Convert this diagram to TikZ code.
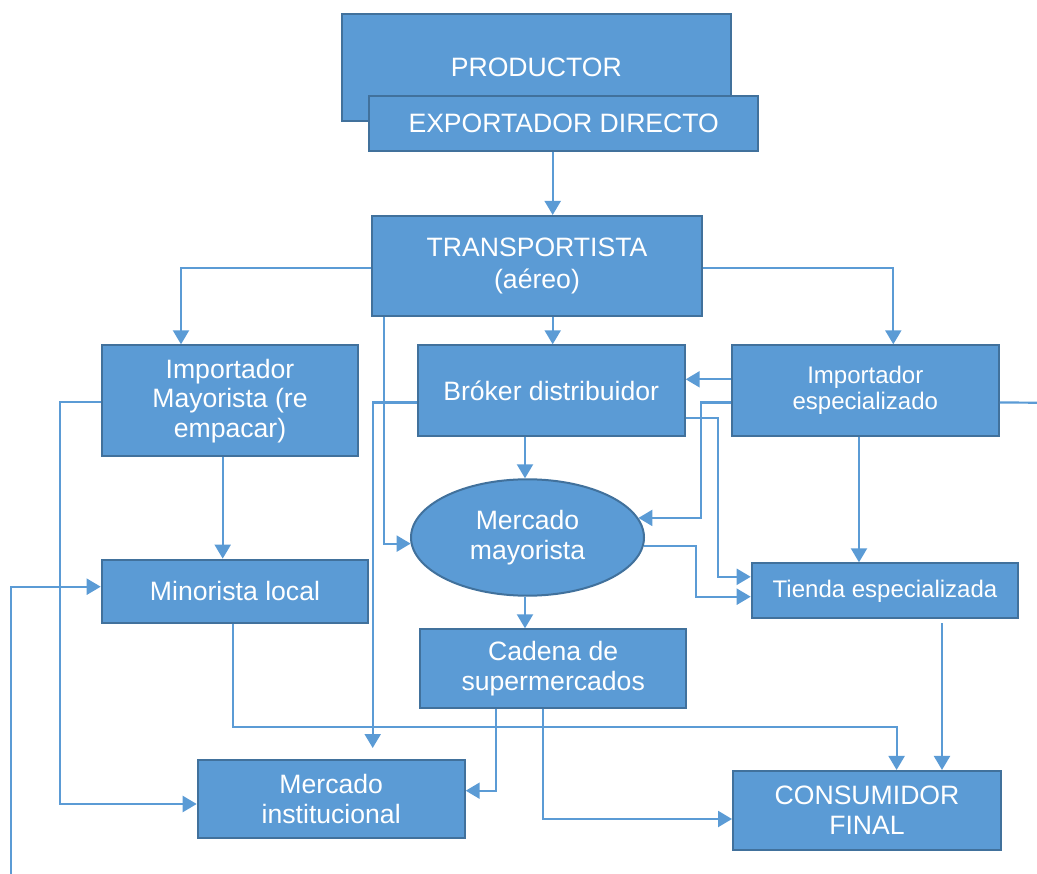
\documentclass[tikz,border=0pt]{standalone}
\usepackage{fontspec}
\setmainfont{Liberation Sans}
\usepackage{xcolor}
\usepackage{tikz}
\usetikzlibrary{arrows.meta,positioning,shapes.geometric,calc}
\definecolor{boxblue}{HTML}{5B9BD5}
\definecolor{boxedge}{HTML}{41719C}

\begin{document}
\begin{tikzpicture}[
    x=1pt, y=-1pt,
    box/.style={rectangle, draw=boxedge, fill=boxblue, line width=2pt, inner sep=0pt,
                align=center, text=white, font=\fontsize{26.6}{29.5}\selectfont},
    smallbox/.style={box, font=\fontsize{24}{26}\selectfont},
    oval/.style={box, ellipse},
    arrow/.style={-{Triangle[length=14pt,width=16pt]}, draw=boxblue, line width=2.2pt},
    link/.style={draw=boxblue, line width=2.2pt}
]
\useasboundingbox (0,0) rectangle (1037,874);

% top of the chain
\node[box, minimum width=388.7pt, minimum height=107pt]  (prod)   at (536.3,67.2)  {PRODUCTOR};
\node[box, minimum width=388.7pt, minimum height=54.7pt] (expo)   at (563.7,123.3) {EXPORTADOR DIRECTO};
\node[box, minimum width=330.6pt, minimum height=99.7pt,
      font=\fontsize{26.6}{31.5}\selectfont]             (transp) at (537,265.8)   {TRANSPORTISTA\\(aéreo)};

% importers and broker
\node[box, minimum width=256.6pt, minimum height=111pt]   (impmay) at (230,400.8)   {Importador\\Mayorista (re\\empacar)};
\node[box, minimum width=267pt, minimum height=90.4pt]    (broker) at (551.2,390.5) {Bróker distribuidor};
\node[smallbox, minimum width=267.3pt, minimum height=90.4pt] (impesp) at (865.3,390.5) {Importador\\especializado};

% markets and shops
\node[oval, minimum width=233pt, minimum height=116.4pt]  (mayor)  at (527.5,537.5) {Mercado\\mayorista};
\node[box, minimum width=266.6pt, minimum height=63.3pt]  (minor)  at (235,591.3)   {Minorista local};
\node[smallbox, minimum width=266.6pt, minimum height=55pt] (tienda) at (885,590.8) {Tienda especializada};
\node[box, minimum width=266.3pt, minimum height=78.2pt]  (cadena) at (553.2,668.4) {Cadena de\\supermercados};
\node[box, minimum width=267pt, minimum height=78pt]      (instit) at (331.2,799)   {Mercado\\institucional};
\node[box, minimum width=268pt, minimum height=78.7pt]    (consum) at (867,810.3)   {CONSUMIDOR\\FINAL};

% loose ends
\coordinate (minorin) at (10.7,874);
\coordinate (espout)  at (1037,402.7);

% connectors
\draw[arrow] ([xshift=-11pt]expo.south) -- ([xshift=15.7pt]transp.north);
\draw[arrow] ([yshift=-2pt]transp.west) -| ([xshift=-49pt]impmay.north);
\draw[arrow] ([xshift=15.7pt]transp.south) -- ([xshift=1.5pt]broker.north);
\draw[arrow] ([yshift=-2pt]transp.east) -| ([xshift=28pt]impesp.north);
\draw[arrow] ([xshift=-153pt]transp.south) |- (mayor.183);

\draw[arrow] ([yshift=-1.5pt]impmay.west) -- ++(-41pt,0pt) |- ([yshift=-5pt]instit.west);
\draw[arrow] ([xshift=-7.3pt]impmay.south) -- ([xshift=-12.3pt]minor.north);
\draw[arrow] (minorin) |- ([yshift=4.6pt]minor.west);

\draw[arrow] ([yshift=-12pt]broker.west) -| ([xshift=41.5pt,yshift=11pt]instit.north);
\draw[arrow] ([xshift=-26.2pt]broker.south) -- ([xshift=-2.5pt]mayor.north);
\draw[arrow] ([yshift=-27.8pt]broker.east) -- ++(32.6pt,0pt) |- ([yshift=14pt]tienda.west);

\draw[arrow] ([yshift=11.2pt]impesp.west) -- ([yshift=11.2pt]broker.east);
\draw[arrow] ([yshift=-12pt]impesp.west) -- ++(-30pt,0pt) |- (mayor.10);
\draw[arrow] ([xshift=-6.3pt]impesp.south) -- ([xshift=-26pt]tienda.north);
\draw[link]  ([yshift=-12pt]impesp.east) -- (espout);

\draw[arrow] (mayor.356) -- ++(52pt,0pt) |- ([yshift=-5.9pt]tienda.west);
\draw[arrow] ([xshift=-2.5pt]mayor.south) -- ([xshift=-28.2pt]cadena.north);

\draw[arrow] ([xshift=-2.3pt]minor.south) -- ++(0pt,-102.7pt) -| ([xshift=29.6pt]consum.north);
\draw[arrow] ([xshift=57pt,yshift=-4pt]tienda.south) -- ([xshift=75pt]consum.north);
\draw[arrow] ([xshift=-57.5pt]cadena.south) |- ([yshift=8.3pt]instit.east);
\draw[arrow] ([xshift=-10pt]cadena.south) |- ([yshift=-8.7pt]consum.west);
\end{tikzpicture}
\end{document}
